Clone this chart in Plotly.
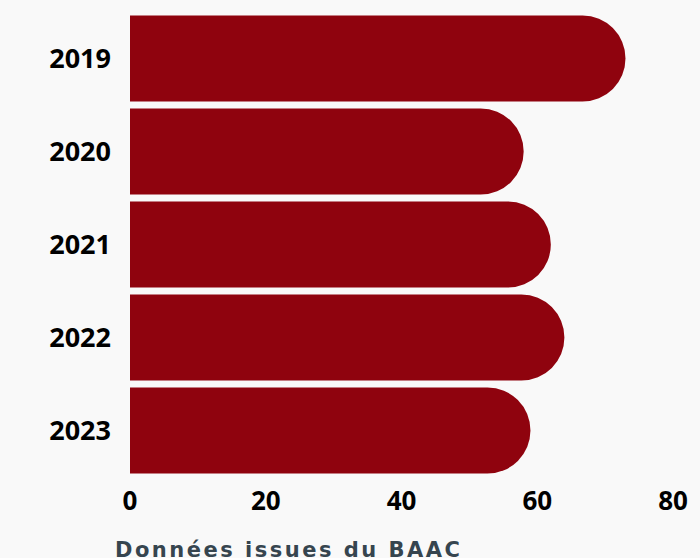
import plotly.graph_objects as go

years = ["2019", "2020", "2021", "2022", "2023"]
values = [73, 58, 62, 64, 59]
x_ticks = [0, 20, 40, 60, 80]
caption = "Données issues du BAAC"

fig = go.Figure(go.Bar(
    x=values,
    y=years,
    orientation="h",
    marker=dict(color="#8f030e", cornerradius="50%", line=dict(width=0)),
    hoverinfo="skip",
))

fig.update_layout(
    width=700, height=558,
    paper_bgcolor="#f9f9f9",
    plot_bgcolor="#f9f9f9",
    margin=dict(l=130, r=27, t=12, b=81),
    bargap=0.075,
    showlegend=False,
    xaxis=dict(
        range=[0, 80],
        tickvals=x_ticks,
        ticktext=[str(v) for v in x_ticks],
        showgrid=False, zeroline=False, showline=False,
        ticks="", ticklabelstandoff=6,
        tickfont=dict(family="Open Sans", size=26, color="#000000", weight="bold"),
    ),
    yaxis=dict(
        categoryorder="array",
        categoryarray=years[::-1],
        showgrid=False, zeroline=False, showline=False,
        ticks="", ticklabelstandoff=18,
        tickfont=dict(family="Open Sans", size=27, color="#000000", weight="bold"),
    ),
    annotations=[dict(
        text='<span style="letter-spacing:2.5px">' + caption + '</span>',
        xref="paper", yref="paper",
        x=-0.032, y=-0.156, xanchor="left", yanchor="middle",
        showarrow=False,
        font=dict(family="DejaVu Sans", size=21, color="#36454f", weight="bold"),
    )],
)

fig.write_html(
    "out.html",
    config={"displayModeBar": False},
    post_script="document.body.style.margin='0';document.body.style.background='#f9f9f9';",
)
